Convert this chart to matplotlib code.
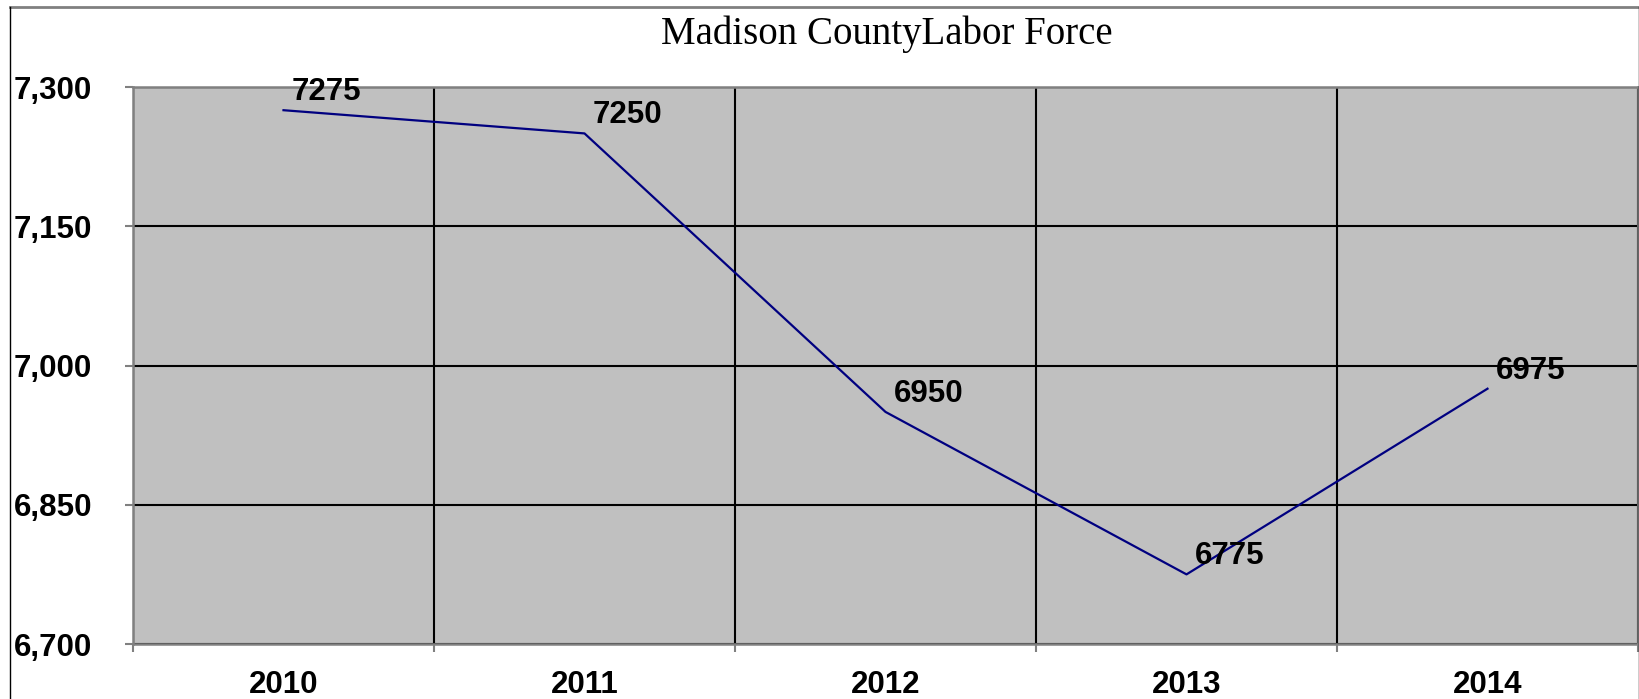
import matplotlib
matplotlib.use("Agg")
import matplotlib.pyplot as plt
from matplotlib.lines import Line2D
import numpy as np

# data
years = ["2010", "2011", "2012", "2013", "2014"]
labor_force = [7275, 7250, 6950, 6775, 6975]
y_ticks = [6700, 6850, 7000, 7150, 7300]

LINE_COLOR = "#000080"
PLOT_BG = "#c0c0c0"
SPINE = "#808080"

fig = plt.figure(figsize=(16.4, 6.99), dpi=100, facecolor="white")
ax = fig.add_axes([133 / 1640, 55 / 699, (1638 - 133) / 1640, (644 - 87) / 699])
ax.set_facecolor(PLOT_BG)

x = np.arange(len(years))
ax.plot(x, labor_force, color=LINE_COLOR, linewidth=1.6, zorder=3)

# data labels, up and to the right of each point
for xi, val in zip(x, labor_force):
    ax.annotate(f"{val}", (xi, val), xytext=(5.8, 7.2), textcoords="offset points",
                ha="left", va="baseline", fontsize=22.5, fontweight="bold",
                family="Liberation Sans", color="black", zorder=4,
                annotation_clip=False)

ax.set_xlim(-0.5, len(years) - 0.5)
ax.set_ylim(6700, 7300)

# y axis
ax.set_yticks(y_ticks)
ax.set_yticklabels([f"{v:,}" for v in y_ticks], fontsize=22.5, fontweight="bold",
                   family="Liberation Sans", ha="left")
ax.tick_params(axis="y", length=6, width=1.5, color=SPINE, pad=80)
ax.grid(axis="y", color="black", linewidth=1.5, zorder=1)

# x axis: labels at centres, tick marks and gridlines at category boundaries
ax.set_xticks(x)
ax.set_xticklabels(years, fontsize=22.5, fontweight="bold", family="Liberation Sans")
ax.tick_params(axis="x", which="major", length=0, pad=19)
ax.set_xticks(np.arange(-0.5, len(years)), minor=True)
ax.tick_params(axis="x", which="minor", length=6, width=1.5, color=SPINE)
ax.grid(axis="x", which="minor", color="black", linewidth=1.5, zorder=1)
ax.set_axisbelow(True)

for s in ax.spines.values():
    s.set_color(SPINE)
    s.set_linewidth(1.8)
    s.set_zorder(2)

fig.text(887 / 1640, 1 - 34 / 699, "Madison CountyLabor Force", ha="center", va="center",
         fontsize=28, family="Liberation Serif", color="black")

# outer chart border
fig.add_artist(Line2D([10 / 1640, 1639 / 1640], [1 - 7 / 699, 1 - 7 / 699],
                      transform=fig.transFigure, color=SPINE, linewidth=2))
fig.add_artist(Line2D([10 / 1640, 10 / 1640], [0, 1 - 7 / 699],
                      transform=fig.transFigure, color="black", linewidth=1))
fig.add_artist(Line2D([1639 / 1640, 1639 / 1640], [0, 1 - 7 / 699],
                      transform=fig.transFigure, color="black", linewidth=1))

fig.savefig("out.png", dpi=100, facecolor="white")
